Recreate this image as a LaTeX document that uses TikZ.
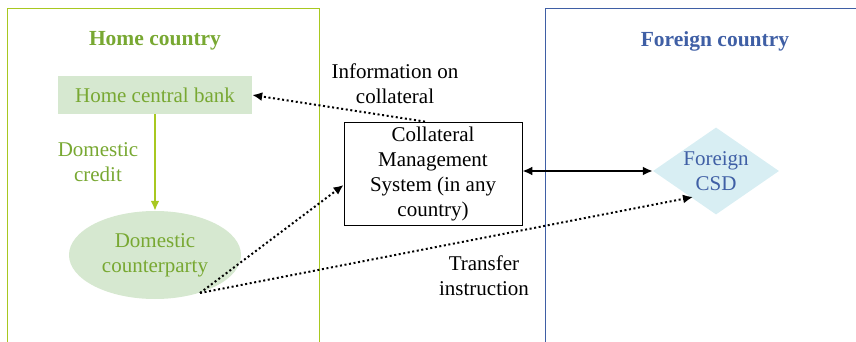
\documentclass[tikz,border=0pt]{standalone}
\usepackage{fontspec}
\setmainfont{Liberation Serif}
\usetikzlibrary{shapes.geometric,arrows.meta}
\definecolor{homeline}{HTML}{A8C820}
\definecolor{hometext}{HTML}{78A832}
\definecolor{homefill}{HTML}{D6E8D0}
\definecolor{forline}{HTML}{3F5FA5}
\definecolor{forfill}{HTML}{D8EEF3}
\tikzset{
  txt/.style={font=\fontsize{21}{25}\selectfont, align=center, inner sep=0pt},
  title/.style={font=\fontsize{21.5}{25}\selectfont\bfseries, inner sep=0pt},
  dotarrow/.style={line width=2pt, dash pattern=on 2pt off 2.6pt, -{Latex[length=10pt,width=9pt]}},
}
\begin{document}
\begin{tikzpicture}[x=1pt,y=-1pt]
\useasboundingbox (0,0) rectangle (856,342);
% country frames
\draw[homeline, line width=0.8pt] (7,342) -- (7,8) -- (319,8) -- (319,342);
\draw[forline, line width=0.8pt] (545,342) -- (545,8) -- (860,8);
\node[title, text=hometext] (hometitle) at (155,41) {Home country};
\node[title, text=forline] (fortitle) at (715,41) {Foreign country};
% nodes
\node[txt, fill=homefill, text=hometext, minimum width=194pt, minimum height=38pt] (hcb) at (155,95) {Home central bank};
\node[txt, ellipse, fill=homefill, text=hometext, minimum width=172pt, minimum height=88pt] (dcp) at (155,255) {Domestic\\counterparty};
\node[txt, draw, line width=0.8pt, minimum width=178pt, minimum height=103pt] (cms) at (433,173.5) {Collateral\\Management\\System (in any\\country)};
\node[txt, diamond, fill=forfill, text=forline, minimum width=126pt, minimum height=87pt, aspect=1.45] (csd) at (716,171) {Foreign\\CSD};
% labels
\node[txt, text=hometext] (dclab) at (98,162) {Domestic\\credit};
\node[txt] (infolab) at (395,84) {Information on\\collateral};
\node[txt] (trlab) at (484,276) {Transfer\\instruction};
% connectors
\coordinate (dcpend) at (200,293);
\draw[homeline, line width=2pt, -{Latex[length=10pt,width=9pt]}] (hcb.south) -- (dcp.north);
\draw[dotarrow] ([xshift=-8pt]cms.north) -- (hcb.east);
\draw[dotarrow] (dcpend) -- ([yshift=-11.5pt]cms.west);
\draw[dotarrow] (dcpend) -- (693,197);
\draw[line width=2pt, {Latex[length=10pt,width=9pt]}-{Latex[length=10pt,width=9pt]}] ([yshift=2.5pt]cms.east) -- (csd.west);
\end{tikzpicture}
\end{document}
